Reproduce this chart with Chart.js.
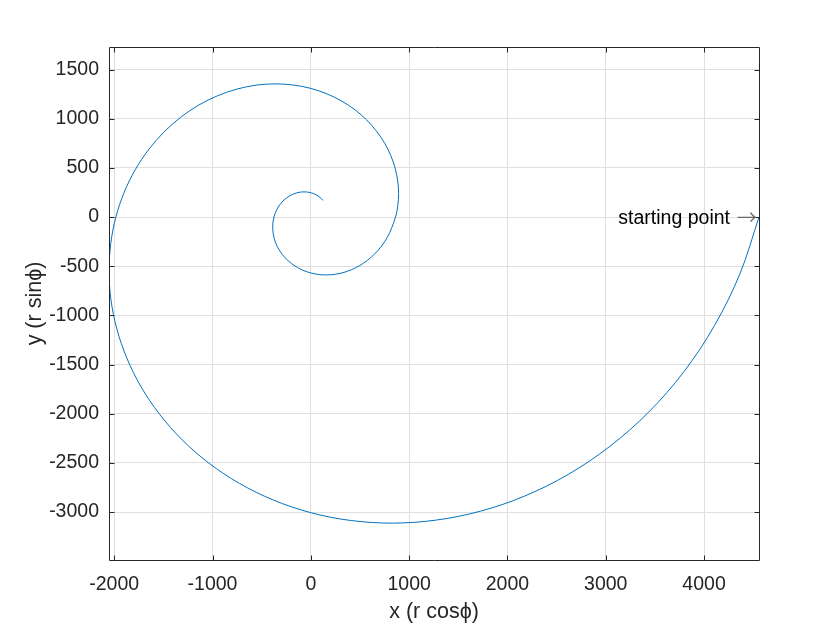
<!DOCTYPE html>
<html>
<head>
<meta charset="utf-8">
<script src="https://cdn.jsdelivr.net/npm/chart.js@4/dist/chart.umd.min.js"></script>
<style>
  html, body { margin: 0; padding: 0; background: #ffffff; }
  canvas { display: block; }
</style>
</head>
<body>
<canvas id="c" width="840" height="630"></canvas>
<script>
// ---- data ----
const spiralX = [4559, 4366, 4108, 3796, 3437, 3041, 2618, 2177, 1727, 1277, 834, 406, 0, -379, -726, -1037, -1309, -1539, -1727, -1871, -1973, -2033, -2053, -2035, -1983, -1899, -1787, -1651, -1495, -1323, -1139, -947, -751, -555, -363, -177, 0, 165, 316, 451, 569, 669, 751, 814, 858, 884, 893, 885, 862,
  777, 650, 495, 327, 158, 0, -137, -248, -327, -373, -388, -375, -338, -283, -215, -142, -69, 0, 60, 108, 123];
const spiralY = [0, -575, -1101, -1572, -1984, -2333, -2618, -2837, -2991, -3082, -3113, -3086, -3007, -2879, -2709, -2503, -2266, -2005, -1727, -1436, -1139, -842, -550, -268, 0, 250, 479, 684, 863, 1015, 1139, 1234, 1301, 1341, 1354, 1342, 1308, 1252, 1178, 1089, 986, 872, 751, 624, 495, 366, 239, 117, 0,
  -208, -375, -495, -566, -589, -569, -513, -429, -327, -216, -104, 0, 91, 163, 215, 246, 256, 247, 223, 186, 169];
const xTickValues = [-2000, -1000, 0, 1000, 2000, 3000, 4000];
const yTickValues = [-3000, -2500, -2000, -1500, -1000, -500, 0, 500, 1000, 1500];
const xLimits = [-2053, 4559];
const yLimits = [-3488, 1729];
const xLabel = 'x (r cos\u03D5)';
const yLabel = 'y (r sin\u03D5)';
const annotationX = 4559;
const annotationY = 0;
const annotationText = 'starting point';
const annotationArrow = '\u2192';

// ---- styling ----
const FONT = "'Liberation Sans', Arial, Helvetica, sans-serif";
const AXIS_COLOR = '#262626';
const GRID_COLOR = '#dfdfdf';
const LINE_COLOR = '#0072BD';

const points = spiralX.map((x, i) => ({ x: x, y: spiralY[i] }));

const boxPlugin = {
  id: 'matlabBox',
  afterDatasetsDraw(chart) {
    const { ctx, chartArea: a, scales } = chart;
    const xs = scales.x, ys = scales.y;
    ctx.save();
    ctx.strokeStyle = AXIS_COLOR;
    ctx.lineWidth = 1;
    const L = Math.round(a.left) + 0.5, R = Math.round(a.right) + 0.5;
    const T = Math.round(a.top) + 0.5, B = Math.round(a.bottom) + 0.5;
    ctx.beginPath();
    ctx.rect(L, T, R - L, B - T);
    ctx.stroke();
    const tl = 5;
    ctx.beginPath();
    xTickValues.forEach(v => {
      const px = Math.round(xs.getPixelForValue(v)) + 0.5;
      ctx.moveTo(px, B); ctx.lineTo(px, B - tl);
      ctx.moveTo(px, T); ctx.lineTo(px, T + tl);
    });
    yTickValues.forEach(v => {
      const py = Math.round(ys.getPixelForValue(v)) + 0.5;
      ctx.moveTo(L, py); ctx.lineTo(L + tl, py);
      ctx.moveTo(R, py); ctx.lineTo(R - tl, py);
    });
    ctx.stroke();

    // annotation "starting point ->"
    const ax = xs.getPixelForValue(annotationX) - 2;
    const ay = ys.getPixelForValue(annotationY);
    ctx.textBaseline = 'alphabetic';
    ctx.textAlign = 'right';
    ctx.font = "20px 'Noto Sans CJK SC', 'DejaVu Sans', sans-serif";
    ctx.fillStyle = '#6a6a6a';
    ctx.fillText(annotationArrow, ax, ay + 8);
    const arrowW = ctx.measureText(annotationArrow).width;
    ctx.font = '19.5px ' + FONT;
    ctx.fillStyle = '#000000';
    ctx.fillText(annotationText, ax - arrowW - 7, ay + 7);
    ctx.restore();
  }
};

new Chart(document.getElementById('c'), {
  type: 'scatter',
  data: {
    datasets: [{
      data: points,
      showLine: true,
      borderColor: LINE_COLOR,
      borderWidth: 1,
      pointRadius: 0,
      pointHoverRadius: 0,
      tension: 0.34,
      fill: false
    }]
  },
  options: {
    responsive: false,
    animation: false,
    devicePixelRatio: 1,
    elements: { line: { capBezierPoints: false } },
    layout: { padding: { top: 47, right: 81, left: 0, bottom: 0 } },
    plugins: { legend: { display: false }, tooltip: { enabled: false } },
    scales: {
      x: {
        type: 'linear',
        position: 'bottom',
        min: xLimits[0],
        max: xLimits[1],
        afterBuildTicks: s => { s.ticks = xTickValues.map(v => ({ value: v })); },
        afterFit: s => { s.height = 70; },
        grid: { color: GRID_COLOR, drawTicks: false, lineWidth: 1 },
        border: { display: false },
        ticks: {
          padding: 13, color: AXIS_COLOR, autoSkip: false, maxRotation: 0,
          font: { family: FONT, size: 19.5 },
          callback: v => String(v)
        },
        title: {
          display: true, text: xLabel, color: AXIS_COLOR,
          font: { family: FONT, size: 21.5 },
          padding: { top: 0, bottom: 5 }
        }
      },
      y: {
        type: 'linear',
        position: 'left',
        min: yLimits[0],
        max: yLimits[1],
        afterBuildTicks: s => { s.ticks = yTickValues.map(v => ({ value: v })); },
        afterFit: s => { s.width = 109; },
        grid: { color: GRID_COLOR, drawTicks: false, lineWidth: 1 },
        border: { display: false },
        ticks: {
          padding: 10, color: AXIS_COLOR, autoSkip: false,
          font: { family: FONT, size: 19.5 },
          callback: v => String(v)
        },
        title: {
          display: true, text: yLabel, color: AXIS_COLOR,
          font: { family: FONT, size: 21.5 },
          padding: { top: 22, bottom: 0 }
        }
      }
    }
  },
  plugins: [boxPlugin]
});
</script>
</body>
</html>
